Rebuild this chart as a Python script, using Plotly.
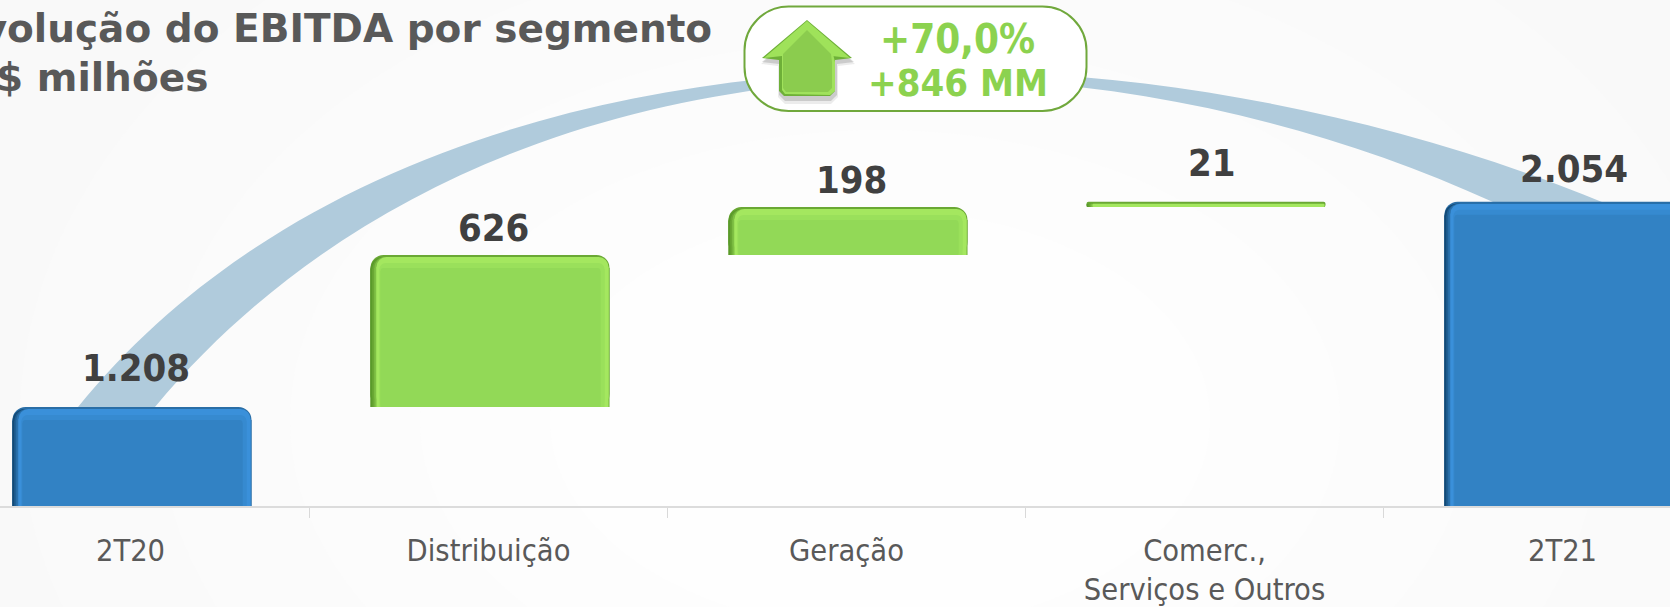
import plotly.graph_objects as go

categories = ["2T20", "Distribuição", "Geração", "Comerc.,<br>Serviços e Outros", "2T21"]
values = [1208, 626, 198, 21, 2054]
bases = [0, 1208, 1834, 2032, 0]
labels = ["1.208", "626", "198", "21", "2.054"]
kinds = ["total", "delta", "delta", "delta", "total"]
title_line1 = "Evolução do EBITDA por segmento"
title_line2 = "R$ milhões"
badge_line1 = "+70,0%"
badge_line2 = "+846 MM"

W, H = 1670, 607
BOTTOM = 101
PLOT_H = H - BOTTOM
CAT_PX = 358.0
CAT0_PX = 130.5
Y_MIN = 800
UNIT_PER_PX = 4.12
BAR_PX = 239
BAR_SHIFT_PX = 1.5
FONT = "DejaVu Sans Condensed"
FONT_WIDE = "DejaVu Sans"

def X(px):
    return px / W

def Y(py):
    return (PLOT_H - py) / PLOT_H

def xy(pt):
    return f"{X(pt[0]):.5f},{Y(pt[1]):.5f}"

# ---------- bars: several inset layers give the bevel ----------
PALETTE = {
    "total": ["#2a6ea6", "#134a76", "#1f5f94", "#2a72ae", "#3a90da", "#368ad0", "#3282c4"],
    "delta": ["#6aa834", "#5a9a2a", "#6aa834", "#7fc044", "#a4e75f", "#9ae05b", "#92d957"],
}
# (left inset px, right inset px, top inset px, corner radius px)
LAYERS = [(0, 0, 0, 13), (0, 1, 2, 12), (2, 1, 2, 12), (4, 1, 2, 11), (6, 1, 2, 10), (9, 5, 8, 6), (10, 9, 13, 3)]

fig = go.Figure()
for n, (li, ri, ti, rad) in enumerate(LAYERS):
    colors = [PALETTE[k][n] for k in kinds]
    widths = [(BAR_PX - li - ri) / CAT_PX] * 5
    offsets = [(-BAR_PX / 2 + li + BAR_SHIFT_PX) / CAT_PX] * 5
    fig.add_trace(go.Bar(
        x=categories, y=[max(0, v - ti * UNIT_PER_PX) for v in values], base=bases,
        width=widths, offset=offsets,
        marker=dict(color=colors, line=dict(width=0), cornerradius=rad),
        showlegend=False, hoverinfo="skip",
    ))
    # square lower part, so that the foot of a floating bar has sharp corners
    fig.add_trace(go.Bar(
        x=categories, y=[max(0, v - (ti + rad) * UNIT_PER_PX) for v in values], base=bases,
        width=widths, offset=offsets,
        marker=dict(color=colors, line=dict(width=0)),
        showlegend=False, hoverinfo="skip",
    ))

# ---------- background and arc ----------
shapes = []
for rx, ry, col in [(860, 600, "#fafafa"), (720, 480, "#fbfbfb"), (590, 380, "#fcfcfc"),
                    (460, 290, "#fdfdfd"), (330, 210, "#fefefe")]:
    cx, cy = 880, 420
    shapes.append(dict(type="circle", xref="paper", yref="paper", layer="below",
                       x0=X(cx - rx), x1=X(cx + rx), y0=Y(cy + ry), y1=Y(cy - ry),
                       fillcolor=col, line=dict(width=0)))

outer = [(78, 407), (400, 10), (1100, -5), (1602, 202)]
inner = [(1493, 202), (1050, 0), (470, 30), (155, 407)]
arc = (f"M {xy(outer[0])} C {xy(outer[1])} {xy(outer[2])} {xy(outer[3])} "
       f"L {xy(inner[0])} C {xy(inner[1])} {xy(inner[2])} {xy(inner[3])} Z")
shapes.append(dict(type="path", path=arc, xref="paper", yref="paper", layer="below",
                   fillcolor="#b0cbdc", line=dict(width=0)))

# ---------- badge ----------
def rrect(x0, y0, x1, y1, r):
    k = 0.45 * r
    return " ".join([
        f"M {xy((x0 + r, y0))}",
        f"L {xy((x1 - r, y0))}",
        f"C {xy((x1 - k, y0))} {xy((x1, y0 + k))} {xy((x1, y0 + r))}",
        f"L {xy((x1, y1 - r))}",
        f"C {xy((x1, y1 - k))} {xy((x1 - k, y1))} {xy((x1 - r, y1))}",
        f"L {xy((x0 + r, y1))}",
        f"C {xy((x0 + k, y1))} {xy((x0, y1 - k))} {xy((x0, y1 - r))}",
        f"L {xy((x0, y0 + r))}",
        f"C {xy((x0, y0 + k))} {xy((x0 + k, y0))} {xy((x0 + r, y0))}",
        "Z",
    ])

shapes.append(dict(type="path", path=rrect(744.5, 6.5, 1086.5, 111, 44), xref="paper", yref="paper",
                   layer="above", fillcolor="#ffffff", line=dict(color="#70a83c", width=2)))

def poly(pts):
    return "M " + " L ".join(xy(p) for p in pts) + " Z"

def arrow(dx=0, dy=0, grow=0):
    return poly([(807 + dx, 20 + dy - grow), (852 + dx + grow, 58 + dy), (835 + dx + grow, 60 + dy),
                 (835 + dx + grow, 91 + dy), (830 + dx, 96 + dy + grow), (784 + dx, 96 + dy + grow),
                 (779 + dx - grow, 91 + dy), (779 + dx - grow, 60 + dy), (762 + dx - grow, 58 + dy)])

for a_path, col in [
    (arrow(1, 6, 2), "rgba(150,150,150,0.18)"),
    (arrow(1, 4, 1), "rgba(120,120,120,0.28)"),
    (arrow(), "#6eb038"),
    (poly([(807, 21), (850, 58), (832, 56), (807, 36), (782, 56), (764, 58)]), "#9fe25a"),
    (poly([(807, 32), (833, 54), (835, 62), (835, 91), (830, 95), (785, 94), (782, 90), (782, 54)]), "#a0e25c"),
    (poly([(807, 30), (831, 54), (832, 62), (832, 88), (828, 92), (786, 92), (783, 88), (783, 54)]), "#8bcc4e"),
]:
    shapes.append(dict(type="path", path=a_path, xref="paper", yref="paper", layer="above",
                       fillcolor=col, line=dict(width=0)))

# ---------- annotations ----------
annots = []
LABEL_XSHIFT = [5, 5, 5, 7, 11]
LABEL_YSHIFT = [39, 27, 27, 39, 33]
for i, (c, v, b, t) in enumerate(zip(categories, values, bases, labels)):
    annots.append(dict(x=c, y=v + b, text=f"<b>{t}</b>", showarrow=False, xanchor="center", yanchor="middle",
                       xshift=LABEL_XSHIFT[i], yshift=LABEL_YSHIFT[i],
                       font=dict(family=FONT, size=38, color="#404040")))

annots += [
    dict(xref="paper", yref="paper", x=X(714), y=Y(28), text=f"<b>{title_line1}</b>", showarrow=False,
         xanchor="right", yanchor="middle", font=dict(family=FONT_WIDE, size=39, color="#595959")),
    dict(xref="paper", yref="paper", x=X(210), y=Y(77), text=f"<b>{title_line2}</b>", showarrow=False,
         xanchor="right", yanchor="middle", font=dict(family=FONT_WIDE, size=39, color="#595959")),
    dict(xref="paper", yref="paper", x=X(957), y=Y(39), text=f"<b>{badge_line1}</b>", showarrow=False,
         xanchor="center", yanchor="middle", font=dict(family=FONT, size=40, color="#8cd24f")),
    dict(xref="paper", yref="paper", x=X(958), y=Y(83), text=f"<b>{badge_line2}</b>", showarrow=False,
         xanchor="center", yanchor="middle", font=dict(family=FONT, size=38, color="#8cd24f")),
]

fig.update_layout(
    width=W, height=H,
    margin=dict(l=0, r=0, t=0, b=BOTTOM, pad=0),
    paper_bgcolor="#f9f9f9",
    plot_bgcolor="rgba(0,0,0,0)",
    barmode="overlay",
    shapes=shapes,
    annotations=annots,
    showlegend=False,
    xaxis=dict(
        type="category",
        categoryorder="array",
        categoryarray=categories,
        range=[-CAT0_PX / CAT_PX, (W - CAT0_PX) / CAT_PX],
        tickson="boundaries",
        ticks="outside",
        ticklen=10,
        tickwidth=1,
        tickcolor="#d9d9d9",
        showline=True,
        linecolor="#dcdcdc",
        linewidth=2,
        showgrid=False,
        zeroline=False,
        tickfont=dict(family=FONT, size=30.5, color="#595959"),
        ticklabelstandoff=16,
        automargin=False,
    ),
    yaxis=dict(range=[Y_MIN, Y_MIN + PLOT_H * UNIT_PER_PX], visible=False, fixedrange=True),
)

fig.write_html("out.html", config=dict(displayModeBar=False),
               post_script="document.body.style.margin='0';document.documentElement.style.overflow='hidden';")
